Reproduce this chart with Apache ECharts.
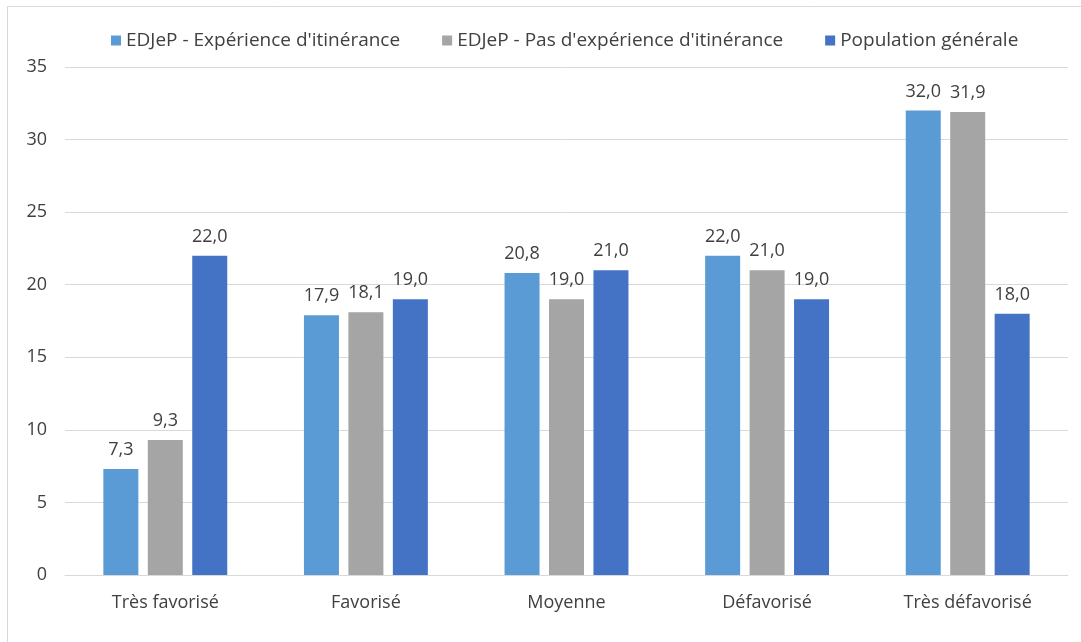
<!DOCTYPE html>
<html><head><meta charset="utf-8">
<script src="https://cdn.jsdelivr.net/npm/echarts@6/dist/echarts.min.js"></script>
<style>html,body{margin:0;padding:0;background:#fff;}#c{width:1081px;height:642px;}</style>
</head><body><div id="c"></div>
<script>
const categories = ["Très favorisé", "Favorisé", "Moyenne", "Défavorisé", "Très défavorisé"];
const seriesNames = ["EDJeP - Expérience d'itinérance", "EDJeP - Pas d'expérience d'itinérance", "Population générale"];
const experience = [7.3, 17.9, 20.8, 22.0, 32.0];
const pasExperience = [9.3, 18.1, 19.0, 21.0, 31.9];
const population = [22.0, 19.0, 21.0, 19.0, 18.0];
const colors = ["#5B9BD5", "#A5A5A5", "#4472C4"];
const font = "'Open Sans', sans-serif";

const chart = echarts.init(document.getElementById('c'));
const mk = (name, data, color) => ({
  name, type: 'bar', data,
  itemStyle: { color },
  barWidth: 35,
  barGap: '27%',
  label: {
    show: true, position: 'top', distance: 10,
    color: '#404040', fontSize: 18, fontFamily: font,
    formatter: p => p.value.toFixed(1).replace('.', ',')
  }
});
chart.setOption({
  animation: false,
  textStyle: { fontFamily: font },
  graphic: [
    { type: 'line', shape: { x1: 7, y1: 6.5, x2: 1081, y2: 6.5 }, style: { stroke: '#d9d9d9', lineWidth: 1 } },
    { type: 'line', shape: { x1: 7.5, y1: 6, x2: 7.5, y2: 642 }, style: { stroke: '#d9d9d9', lineWidth: 1 } }
  ],
  legend: {
    top: 26, left: 106, itemWidth: 10, itemHeight: 10, itemGap: 42,
    icon: 'rect',
    textStyle: { color: '#404040', fontSize: 19, fontFamily: font },
    data: seriesNames
  },
  grid: { left: 65, right: 13, top: 67, bottom: 67, containLabel: false },
  xAxis: {
    type: 'category', data: categories,
    axisLine: { lineStyle: { color: '#d9d9d9', width: 1 } },
    axisTick: { show: false },
    axisLabel: { color: '#404040', fontSize: 18, fontFamily: font, margin: 19 }
  },
  yAxis: {
    type: 'value', min: 0, max: 35, interval: 5,
    axisLine: { show: false }, axisTick: { show: false },
    splitLine: { lineStyle: { color: '#d9d9d9', width: 1 } },
    axisLabel: { color: '#404040', fontSize: 18, fontFamily: font, margin: 18 }
  },
  series: [
    mk(seriesNames[0], experience, colors[0]),
    mk(seriesNames[1], pasExperience, colors[1]),
    mk(seriesNames[2], population, colors[2])
  ]
});
</script></body></html>
